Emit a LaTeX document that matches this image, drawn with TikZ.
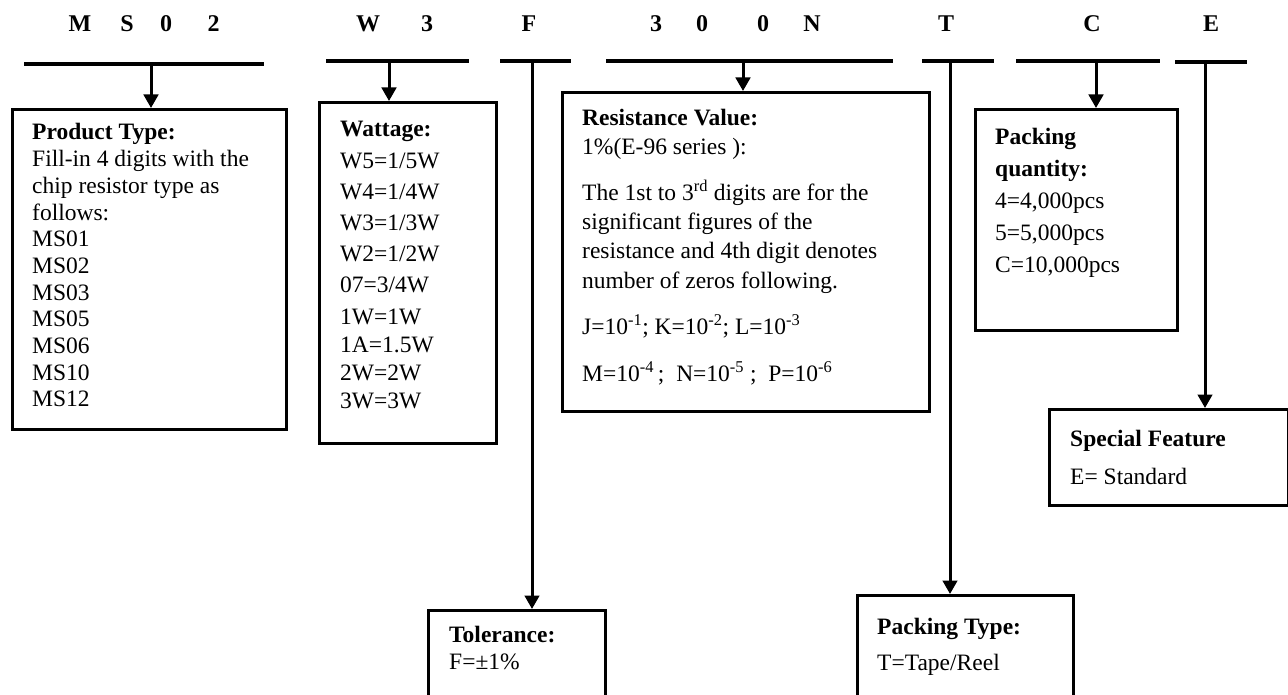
\documentclass[tikz,border=0pt]{standalone}
\usepackage{fontspec}
\setmainfont{Liberation Serif}
\usetikzlibrary{arrows.meta}
\begin{document}
\begin{tikzpicture}[x=1pt,y=-1pt,
  bar/.style={line width=3.5pt},
  conn/.style={line width=3pt,-{Triangle[width=14.5pt,length=13.5pt]}},
  box/.style={draw,line width=3.2pt,rectangle,inner sep=0pt,anchor=north west},
  txt/.style={anchor=base west,inner sep=0pt,align=flush left,font=\fontsize{23.5}{26.7}\selectfont},
  code/.style={anchor=base,inner sep=0pt,font=\fontsize{24}{28}\selectfont\bfseries}]
\useasboundingbox (0,0) rectangle (1288,695);
\clip (0,0) rectangle (1288,695);

% part number letters
\node[code] (c1) at (80,32) {M};
\node[code] (c2) at (127,32) {S};
\node[code] (c3) at (166,32) {0};
\node[code] (c4) at (213.5,32) {2};
\node[code] (c5) at (368,32) {W};
\node[code] (c6) at (427,32) {3};
\node[code] (c7) at (529,32) {F};
\node[code] (c8) at (656,32) {3};
\node[code] (c9) at (702,32) {0};
\node[code] (c10) at (763,32) {0};
\node[code] (c11) at (812,32) {N};
\node[code] (c12) at (946,32) {T};
\node[code] (c13) at (1092,32) {C};
\node[code] (c14) at (1211,32) {E};

% bars
\coordinate (b1l) at (24,64);   \coordinate (b1r) at (264,64);
\coordinate (b2l) at (326,61);  \coordinate (b2r) at (469,61);
\coordinate (b3l) at (500,61);  \coordinate (b3r) at (571,61);
\coordinate (b4l) at (606,61);  \coordinate (b4r) at (893,61);
\coordinate (b5l) at (922,61);  \coordinate (b5r) at (994,61);
\coordinate (b6l) at (1016,61); \coordinate (b6r) at (1160,61);
\coordinate (b7l) at (1175,62); \coordinate (b7r) at (1247,62);
\draw[bar] (b1l) -- (b1r);
\draw[bar] (b2l) -- (b2r);
\draw[bar] (b3l) -- (b3r);
\draw[bar] (b4l) -- (b4r);
\draw[bar] (b5l) -- (b5r);
\draw[bar] (b6l) -- (b6r);
\draw[bar] (b7l) -- (b7r);

% boxes
\node[box,minimum width=274pt,minimum height=320pt] (prod) at (11,108) {};
\node[box,minimum width=177pt,minimum height=341pt] (watt) at (318,101) {};
\node[box,minimum width=177pt,minimum height=160pt] (tol) at (427,609) {};
\node[box,minimum width=367pt,minimum height=319pt] (res) at (561,91) {};
\node[box,minimum width=216pt,minimum height=160pt] (ptype) at (856,594) {};
\node[box,minimum width=202pt,minimum height=221pt] (pqty) at (974,108) {};
\node[box,minimum width=239pt,minimum height=96pt] (spec) at (1048,408) {};

% connectors
\coordinate (s1) at (151,64);
\coordinate (s2) at (389,61);
\coordinate (s3) at (532,61);
\coordinate (s4) at (743,61);
\coordinate (s5) at (950,61);
\coordinate (s6) at (1096,61);
\coordinate (s7) at (1205,62);
\draw[conn] (s1) -- (s1 |- prod.north);
\draw[conn] (s2) -- (s2 |- watt.north);
\draw[conn] (s3) -- (s3 |- tol.north);
\draw[conn] (s4) -- (s4 |- res.north);
\draw[conn] (s5) -- (s5 |- ptype.north);
\draw[conn] (s6) -- (s6 |- pqty.north);
\draw[conn] (s7) -- (s7 |- spec.north);

% texts
\node[txt,text width=250pt] (prodT) at (32,140) {\textbf{Product Type:}\\
Fill-in 4 digits with the\\
chip resistor type as\\
follows:\\
MS01\\
MS02\\
MS03\\
MS05\\
MS06\\
MS10\\
MS12};

\node[txt,text width=150pt] (wattT) at (340,137) {\textbf{Wattage:}\\[4.5pt]
W5=1/5W\\[4.5pt]
W4=1/4W\\[4.5pt]
W3=1/3W\\[4.5pt]
W2=1/2W\\[4.5pt]
07=3/4W\\[4.5pt]
1W=1W\\[1.5pt]
1A=1.5W\\[1.5pt]
2W=2W\\[1.5pt]
3W=3W};

\node[txt,text width=340pt] (resT) at (582,126) {\textbf{Resistance Value:}\\[2.3pt]
1\%(E-96 series ):\\[19.3pt]
The 1st to 3\textsuperscript{rd} digits are for the\\[1.8pt]
significant figures of the\\[2.6pt]
resistance and 4th digit denotes\\[2.6pt]
number of zeros following.\\[19.3pt]
J=10\textsuperscript{-1}; K=10\textsuperscript{-2}; L=10\textsuperscript{-3}\\[20.3pt]
M=10\textsuperscript{-4}\,;\ \ N=10\textsuperscript{-5}\ ;\ \ P=10\textsuperscript{-6}};

\node[txt,text width=175pt] (pqtyT) at (995,145) {\textbf{Packing}\\[5.3pt]
\textbf{quantity:}\\[5.3pt]
4=4,000pcs\\[5.3pt]
5=5,000pcs\\[5.3pt]
C=10,000pcs};

\node[txt,text width=210pt] (specT) at (1070,446) {\textbf{Special Feature}\\[11.3pt]
E= Standard};

\node[txt,text width=150pt] (tolT) at (449,642) {\textbf{Tolerance:}\\[0.3pt]
F=±1\%};

\node[txt,text width=190pt] (ptypeT) at (877,634) {\textbf{Packing Type:}\\[9.3pt]
T=Tape/Reel};
\end{tikzpicture}
\end{document}
